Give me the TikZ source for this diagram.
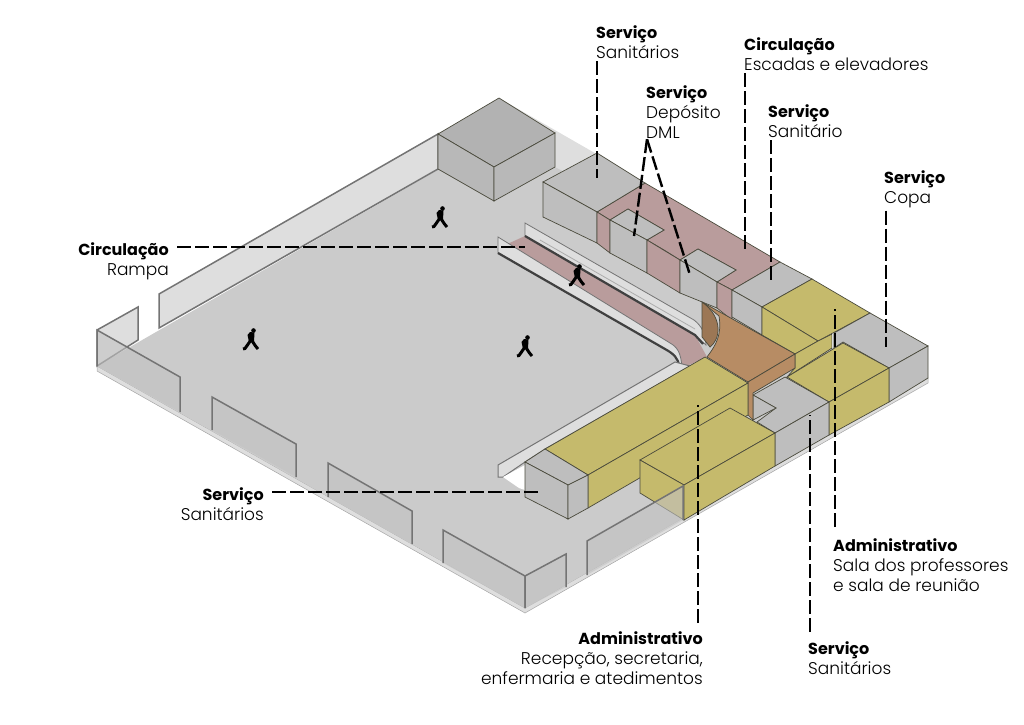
\documentclass[tikz,border=0pt]{standalone}
\usepackage{fontspec}
\setmainfont{Poppins Light}[BoldFont = {Poppins Bold}]
\usetikzlibrary{calc}

\definecolor{floorgrey}{HTML}{CBCBCB}
\definecolor{wallgrey}{HTML}{DEDEDE}
\definecolor{wallline}{HTML}{747474}
\definecolor{blockgrey}{HTML}{BEBEBE}
\definecolor{blockyellow}{HTML}{C5BA6C}
\definecolor{blockpink}{HTML}{B99C9C}
\definecolor{blockbrown}{HTML}{B78C64}
\definecolor{edgeline}{HTML}{4A4A3C}

\newcommand{\titleline}[1]{{\fontsize{16}{20}\selectfont\textbf{#1}}}

\tikzset{
  slab/.style = {fill = wallgrey, draw = black!35, line width = 0.5},
  floorarea/.style = {fill = floorgrey},
  wallback/.style = {fill = wallgrey, draw = wallline, line width = 1.5},
  wallfront/.style = {fill = black!24, fill opacity = 0.6},
  wallrim/.style = {draw = wallline, line width = 1.5},
  greyface/.style = {fill = blockgrey, draw = edgeline, line width = 0.7},
  yellowface/.style = {fill = blockyellow, draw = edgeline, line width = 0.7},
  pinkface/.style = {fill = blockpink, draw = edgeline, line width = 0.7},
  brownface/.style = {fill = blockbrown, draw = edgeline, line width = 0.7},
  leader/.style = {draw = black, line width = 2.4, dash pattern = on 14pt off 4pt},
  labelbox/.style = {inner sep = 0pt, font = \fontsize{17}{20}\selectfont},
  walker/.pic = {
    \fill (2.5,-8.5) circle (2.3);
    \fill (-3.5,-4) -- (-1,-7) -- (3.5,-6.5) -- (3,3) -- (-2,3) -- cycle;
    \draw [line width = 3] (0,1) -- (-6,9.5) -- (-8,10);
    \draw [line width = 3] (0.5,1) -- (4.5,7) -- (7,10);
  }
}

\begin{document}
\begin{tikzpicture}[x = 1pt, y = -1pt]
    \useasboundingbox (0,0) rectangle (1024,724);

    % slab and floor
    \filldraw [slab] (97,366) -- (525,608) -- (928,378) -- (928,383) -- (525,613) -- (97,371) -- cycle;
    \fill [floorarea] (97,366) -- (525,608) -- (928,378) -- (500,134) -- cycle;

    % back walls
    \filldraw [wallback] (159,294) -- (438,134) -- (438,169) -- (159,328) -- cycle;
    \filldraw [wallback] (97,330) -- (138,307) -- (138,340) -- (97,366) -- cycle;
    \fill [wallgrey] (499,98) -- (600,156) -- (600,190) -- (555,167) -- (555,133) -- cycle;

    % core at the back
    \filldraw [greyface, fill = black!30] (438,134) -- (499,98) -- (555,133) -- (494,167) -- cycle;
    \filldraw [greyface, fill = black!28] (438,134) -- (494,167) -- (494,201) -- (438,169) -- cycle;
    \filldraw [greyface, fill = black!28] (494,167) -- (555,133) -- (555,167) -- (494,201) -- cycle;

    % ramp
    \fill [blockpink] (505,245) -- (525,236) -- (695,335) -- (707,357) -- (682,368) -- (670,350) -- cycle;
    \filldraw [fill = wallgrey, draw = wallline, line width = 0.8] (525,223) -- (694,320) .. controls (702,326) and (706,335) .. (706,345) -- (695,335) -- (525,236) -- cycle;
    \draw [wallline!60, line width = 0.8] (540,240) -- (695,329);
    \draw [black!75, line width = 2.2] (525,236) -- (695,335) -- (703,344);
    \filldraw [fill = wallgrey, draw = wallline, line width = 0.8] (498,237) -- (670,343) .. controls (677,347) and (681,352) .. (682,368) -- (678,366) .. controls (678,356) and (674,354) .. (665,349) -- (498,253) -- cycle;
    \draw [black!75, line width = 2.2] (498,253) -- (665,349) .. controls (674,354) and (678,358) .. (679,366);
    \filldraw [fill = wallgrey, draw = wallline, line width = 1] (498,465) -- (675,362) -- (690,366) -- (545,449) -- (525,462) -- (503,477) -- (498,477) -- cycle;
    \fill [white] (503,477) -- (525,465) -- (525,490) -- (519,488) -- cycle;

    % blocks along the back edge
    \filldraw [pinkface] (597,212) -- (645,183) -- (780,262) -- (732,290) -- (717,282) -- (736,270) -- (698,249) -- (680,260) -- (664,250) -- (647,240) -- (664,230) -- (628,209) -- (610,220) -- cycle;
    \filldraw [greyface] (543,182) -- (597,153) -- (645,183) -- (597,212) -- cycle;
    \filldraw [greyface] (543,182) -- (597,212) -- (597,243) -- (543,217) -- cycle;
    \filldraw [pinkface] (597,212) -- (610,220) -- (610,253) -- (597,243) -- cycle;
    \filldraw [greyface] (610,220) -- (628,209) -- (664,230) -- (647,240) -- cycle;
    \filldraw [greyface] (610,220) -- (647,240) -- (647,273) -- (610,253) -- cycle;
    \filldraw [pinkface] (647,240) -- (680,260) -- (680,293) -- (647,273) -- cycle;
    \filldraw [greyface] (680,260) -- (698,249) -- (736,270) -- (717,282) -- cycle;
    \filldraw [greyface] (680,260) -- (717,282) -- (717,308) -- (680,293) -- cycle;
    \filldraw [pinkface] (717,282) -- (732,290) -- (732,320) -- (717,308) -- cycle;
    \filldraw [greyface] (732,290) -- (780,262) -- (812,279) -- (762,307) -- cycle;
    \filldraw [greyface] (732,290) -- (762,307) -- (762,335) -- (732,317) -- cycle;

    % administrative block and copa
    \filldraw [yellowface] (762,307) -- (812,279) -- (870,313) -- (818,341) -- cycle;
    \filldraw [yellowface] (762,307) -- (818,341) -- (795,354) -- (762,335) -- cycle;
    \filldraw [yellowface] (795,354) -- (818,341) -- (832,334) -- (832,348) -- (787,377) -- (795,368) -- cycle;
    \fill [white!85!black] (832,334) -- (836,332) -- (836,346) -- (832,348) -- cycle;
    \filldraw [greyface] (870,313) -- (928,346) -- (889,368) -- (843,342) -- (834,348) -- (834,333) -- cycle;
    \filldraw [greyface] (889,368) -- (928,346) -- (928,378) -- (889,402) -- cycle;
    \filldraw [yellowface] (787,377) -- (843,343) -- (889,368) -- (829,402) -- cycle;
    \filldraw [yellowface] (829,402) -- (889,368) -- (889,402) -- (829,435) -- cycle;

    % lower services
    \filldraw [greyface] (753,395) -- (785,377) -- (829,402) -- (775,433) -- (757,422) -- (776,408) -- cycle;
    \filldraw [greyface] (753,395) -- (776,408) -- (753,420) -- cycle;
    \filldraw [greyface] (775,433) -- (829,402) -- (829,435) -- (775,466) -- cycle;

    % stairs core in brown
    \filldraw [brownface] (702,302) -- (795,354) -- (748,382) -- (707,357) .. controls (716,345) and (722,335) .. (719,316) -- cycle;
    \filldraw [brownface] (748,382) -- (795,354) -- (795,368) -- (753,393) -- (753,420) -- (748,415) -- cycle;
    \filldraw [brownface, fill = blockbrown!85!black] (702,302) -- (702,337) -- (710,347) .. controls (720,340) and (724,318) .. (702,302) -- cycle;

    % reception
    \filldraw [yellowface] (545,449) -- (705,357) -- (748,383) -- (588,475) -- cycle;
    \filldraw [yellowface] (588,475) -- (748,383) -- (748,415) -- (588,508) -- cycle;
    \filldraw [greyface] (525,462) -- (545,449) -- (588,475) -- (568,485) -- cycle;
    \filldraw [greyface] (525,462) -- (568,485) -- (568,519) -- (525,497) -- cycle;
    \filldraw [greyface] (568,485) -- (588,475) -- (588,508) -- (568,519) -- cycle;
    \filldraw [yellowface] (640,460) -- (730,408) -- (775,433) -- (684,485) -- cycle;
    \filldraw [yellowface] (640,460) -- (684,485) -- (684,520) -- (640,493) -- cycle;
    \filldraw [yellowface] (684,485) -- (775,433) -- (775,466) -- (684,520) -- cycle;

    % front walls
    \foreach \xa/\ya/\xb/\yb/\ha/\hb in {97/330/180/377/36/35, 212/397/296/444/33/33, 328/463/412/511/34/33, 443/530/525/576/33/32, 525/576/566/554/32/33, 587/541/683/486/34/34} {
      \fill [wallfront] (\xa,\ya) -- (\xb,\yb) -- (\xb,\yb+\hb) -- (\xa,\ya+\ha) -- cycle;
      \draw [wallrim] (\xa,\ya+\ha) -- (\xa,\ya) -- (\xb,\yb) -- (\xb,\yb+\hb);
    }

    % people
    \foreach \px/\py in {440/217, 251/339, 525/346, 577/275}
      \pic [black] at (\px,\py) {walker};

    % labels
    \node (sanTop) [labelbox, anchor = north west, align = left] at (596,25) {\titleline{Serviço}\\Sanitários};
    \node (depDml) [labelbox, anchor = north west, align = left] at (646,85) {\titleline{Serviço}\\Depósito\\DML};
    \node (cirEsc) [labelbox, anchor = north west, align = left] at (744,37) {\titleline{Circulação}\\Escadas e elevadores};
    \node (sanMid) [labelbox, anchor = north west, align = left] at (768,104) {\titleline{Serviço}\\Sanitário};
    \node (copa) [labelbox, anchor = north west, align = left] at (884,170) {\titleline{Serviço}\\Copa};
    \node (cirRam) [labelbox, anchor = north east, align = right] at (169,242) {\titleline{Circulação}\\Rampa};
    \node (sanLow) [labelbox, anchor = north east, align = right] at (264,487) {\titleline{Serviço}\\Sanitários};
    \node (admRec) [labelbox, anchor = north east, align = right] at (703,631) {\titleline{Administrativo}\\Recepção, secretaria,\\enfermaria e atedimentos};
    \node (sanBot) [labelbox, anchor = north west, align = left] at (808,641) {\titleline{Serviço}\\Sanitários};
    \node (admSal) [labelbox, anchor = north west, align = left] at (833,538) {\titleline{Administrativo}\\Sala dos professores\\e sala de reunião};

    % leader ends
    \coordinate (endSanTop) at (597,178);
    \coordinate (endDepA) at (634,236);
    \coordinate (endDepB) at (690,275);
    \coordinate (endCirEsc) at (745,249);
    \coordinate (endSanMid) at (771,282);
    \coordinate (endCopa) at (886,347);
    \coordinate (endCirRam) at (525,247);
    \coordinate (endSanLow) at (539,492);
    \coordinate (endAdmRec) at (698,405);
    \coordinate (endSanBot) at (810,415);
    \coordinate (endAdmSal) at (835,309);

    \draw [leader] (endSanTop |- sanTop.south) ++(0,3) -- (endSanTop);
    \draw [leader] ($(depDml.south west)+(1,1)$) -- (endDepA);
    \draw [leader] ($(depDml.south west)+(1,1)$) -- (endDepB);
    \draw [leader] (endCirEsc |- cirEsc.south) ++(0,3) -- (endCirEsc);
    \draw [leader] (endSanMid |- sanMid.south) ++(0,3) -- (endSanMid);
    \draw [leader] (endCopa |- copa.south) ++(0,3) -- (endCopa);
    \draw [leader] ($(cirRam.north east)+(8,5)$) -- (endCirRam);
    \draw [leader] ($(sanLow.north east)+(8,5)$) -- (endSanLow);
    \draw [leader] (endAdmRec |- admRec.north) ++(0,-8) -- (endAdmRec);
    \draw [leader] (endSanBot |- sanBot.north) ++(0,-9) -- (endSanBot);
    \draw [leader] (endAdmSal |- admSal.north) ++(0,-11) -- (endAdmSal);
  \end{tikzpicture}
\end{document}
